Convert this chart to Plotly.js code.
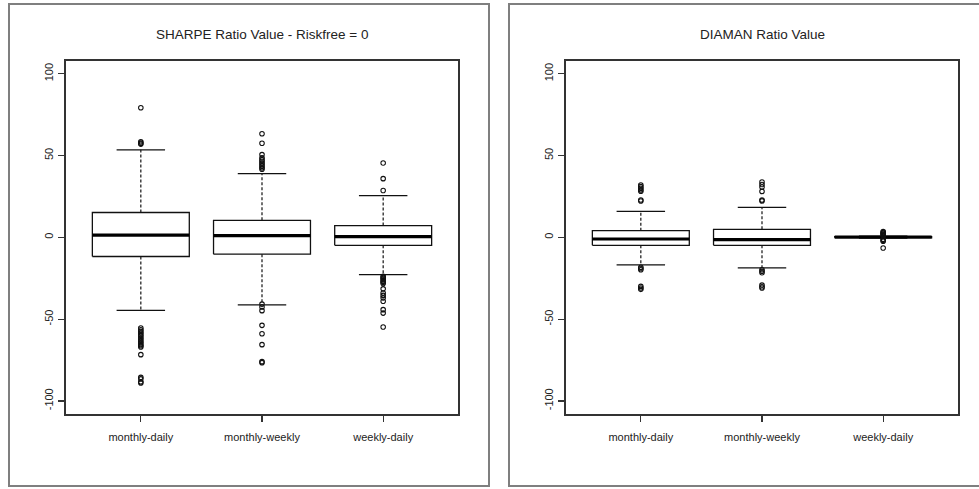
<!DOCTYPE html>
<html>
<head>
<meta charset="utf-8">
<script src="https://cdn.plot.ly/plotly-3.0.1.min.js"></script>
<style>html,body{margin:0;padding:0;background:#fff;}#chart{width:979px;height:489px;}</style>
</head>
<body>
<div id="chart"></div>
<script>
// ---- data ----
const categories = ['monthly-daily', 'monthly-weekly', 'weekly-daily'];
const yTickValues = [-100, -50, 0, 50, 100];

const sharpeTitle = 'SHARPE Ratio Value - Riskfree = 0';
const sharpeLowerWhisker = [-44.6, -41.3, -22.8];
const sharpeQ1 = [-11.7, -10.3, -4.9];
const sharpeMedian = [1.3, 1.1, 0.4];
const sharpeQ3 = [15.2, 10.4, 7.2];
const sharpeUpperWhisker = [53.5, 39.0, 25.5];
const sharpeOutliersMonthlyDaily = [79.2, 58.4, 57.6, 57.0, -55.4, -56.5, -57.5, -58.5, -59.5, -60.5, -61.5, -62.5, -63.6, -64.5, -65.6, -66.3, -67.0, -71.7, -85.6, -86.5, -88.3, -89.0];
const sharpeOutliersMonthlyWeekly = [63.3, 57.5, 50.6, 48.6, 47.5, 46.5, 45.5, 44.5, 43.5, 42.5, 41.6, -40.8, -42.6, -44.8, -53.8, -58.9, -65.6, -76.0, -76.6];
const sharpeOutliersWeeklyDaily = [45.5, 35.9, 28.6, -23.8, -24.5, -25.2, -26.0, -26.8, -27.5, -28.2, -31.5, -34.0, -35.5, -37.0, -39.1, -44.2, -46.3, -54.8];

const diamanTitle = 'DIAMAN Ratio Value';
const diamanLowerWhisker = [-16.8, -18.7, -0.4];
const diamanQ1 = [-4.9, -4.9, -0.3];
const diamanMedian = [-1.0, -1.4, 0.2];
const diamanQ3 = [4.1, 4.9, 0.5];
const diamanUpperWhisker = [15.9, 18.3, 0.7];
const diamanOutliersMonthlyDaily = [32.0, 31.0, 30.0, 29.0, 28.2, 22.8, 22.2, -18.3, -19.0, -19.8, -30.0, -31.0, -31.8];
const diamanOutliersMonthlyWeekly = [33.8, 32.3, 30.8, 28.1, 22.8, 22.3, -19.8, -20.8, -21.6, -29.2, -30.2, -31.0];
const diamanOutliersWeeklyDaily = [3.5, 3.0, 2.5, 2.0, 1.5, 1.0, -1.2, -1.8, -2.4, -6.5];

// ---- drawing ----
const FONT = 'Liberation Sans, Arial, Helvetica, sans-serif';
const HALF_BOX = 0.4;     // R boxwex 0.8
const HALF_CAP = 0.2;     // staplewex 0.5

function panelTraces(xa, ya, lw, q1, med, q3, uw, outliers) {
  const box = {x: [], y: []}, medians = {x: [], y: []}, whisk = {x: [], y: []}, caps = {x: [], y: []}, pts = {x: [], y: []};
  categories.forEach((c, i) => {
    const p = i + 1;
    box.x.push(p - HALF_BOX, p + HALF_BOX, p + HALF_BOX, p - HALF_BOX, p - HALF_BOX, null);
    box.y.push(q1[i], q1[i], q3[i], q3[i], q1[i], null);
    medians.x.push(p - HALF_BOX, p + HALF_BOX, null);
    medians.y.push(med[i], med[i], null);
    whisk.x.push(p, p, null, p, p, null);
    whisk.y.push(q3[i], uw[i], null, q1[i], lw[i], null);
    caps.x.push(p - HALF_CAP, p + HALF_CAP, null, p - HALF_CAP, p + HALF_CAP, null);
    caps.y.push(uw[i], uw[i], null, lw[i], lw[i], null);
    outliers[i].forEach(v => { pts.x.push(p); pts.y.push(v); });
  });
  const base = {xaxis: xa, yaxis: ya, showlegend: false, hoverinfo: 'skip', cliponaxis: true};
  return [
    Object.assign({}, base, {type: 'scatter', mode: 'lines', x: whisk.x, y: whisk.y, line: {color: '#111', width: 1.2, dash: '3px,2px'}}),
    Object.assign({}, base, {type: 'scatter', mode: 'lines', x: caps.x, y: caps.y, line: {color: '#111', width: 1.3}}),
    Object.assign({}, base, {type: 'scatter', mode: 'lines', x: box.x, y: box.y, line: {color: '#111', width: 1.3}}),
    Object.assign({}, base, {type: 'scatter', mode: 'lines', x: medians.x, y: medians.y, line: {color: '#000', width: 3.2}}),
    Object.assign({}, base, {type: 'scatter', mode: 'markers', x: pts.x, y: pts.y, marker: {symbol: 'circle-open', size: 4.5, color: '#111', line: {width: 1.1}}})
  ];
}

const traces = [].concat(
  panelTraces('x', 'y', sharpeLowerWhisker, sharpeQ1, sharpeMedian, sharpeQ3, sharpeUpperWhisker,
    [sharpeOutliersMonthlyDaily, sharpeOutliersMonthlyWeekly, sharpeOutliersWeeklyDaily]),
  panelTraces('x2', 'y2', diamanLowerWhisker, diamanQ1, diamanMedian, diamanQ3, diamanUpperWhisker,
    [diamanOutliersMonthlyDaily, diamanOutliersMonthlyWeekly, diamanOutliersWeeklyDaily])
);

const W = 979, H = 489;
const yDom = [1 - 414 / H, 1 - 60.7 / H];
const xDom1 = [65.7 / W, 458.3 / W];
const xDom2 = [565.7 / W, 958.3 / W];

function xAxis(dom, anchor) {
  return {domain: dom, anchor: anchor, range: [0.38, 3.62], tickmode: 'array', tickvals: [1, 2, 3], ticktext: categories,
    ticks: 'outside', ticklen: 6, tickwidth: 1.2, tickcolor: '#333', ticklabelstandoff: 6, showline: true, mirror: true, linecolor: '#333', linewidth: 1.5,
    showgrid: false, zeroline: false, fixedrange: true, tickfont: {family: FONT, size: 11, color: '#222'}};
}
function yAxis(anchor) {
  return {domain: yDom, anchor: anchor, range: [-108, 108], tickmode: 'array', tickvals: yTickValues, ticktext: yTickValues.map(String),
    tickangle: -90, ticks: 'outside', ticklen: 6, tickwidth: 1.2, tickcolor: '#333', ticklabelstandoff: 1, showline: true, mirror: true, linecolor: '#333', linewidth: 1.5,
    showgrid: false, zeroline: false, fixedrange: true, tickfont: {family: FONT, size: 11, color: '#222'}};
}

const layout = {
  width: W, height: H, margin: {l: 0, r: 0, t: 0, b: 0}, paper_bgcolor: '#fff', plot_bgcolor: '#fff',
  font: {family: FONT, color: '#222'},
  xaxis: xAxis(xDom1, 'y'), yaxis: yAxis('x'),
  xaxis2: xAxis(xDom2, 'y2'), yaxis2: yAxis('x2'),
  annotations: [
    {text: sharpeTitle, xref: 'paper', yref: 'paper', x: (xDom1[0] + xDom1[1]) / 2, y: 1 - 34 / H, xanchor: 'center', yanchor: 'middle', showarrow: false, font: {family: FONT, size: 13.5, color: '#222'}},
    {text: diamanTitle, xref: 'paper', yref: 'paper', x: (xDom2[0] + xDom2[1]) / 2, y: 1 - 34 / H, xanchor: 'center', yanchor: 'middle', showarrow: false, font: {family: FONT, size: 13.5, color: '#222'}}
  ],
  shapes: [
    {type: 'rect', xref: 'paper', yref: 'paper', x0: 9 / W, x1: 489 / W, y0: 1 - 486 / H, y1: 1 - 4 / H, line: {color: '#7f7f7f', width: 2}, layer: 'below'},
    {type: 'rect', xref: 'paper', yref: 'paper', x0: 509 / W, x1: 1.02, y0: 1 - 486 / H, y1: 1 - 4 / H, line: {color: '#7f7f7f', width: 2}, layer: 'below'}
  ]
};

Plotly.newPlot('chart', traces, layout, {staticPlot: true, displayModeBar: false});
</script>
</body>
</html>
